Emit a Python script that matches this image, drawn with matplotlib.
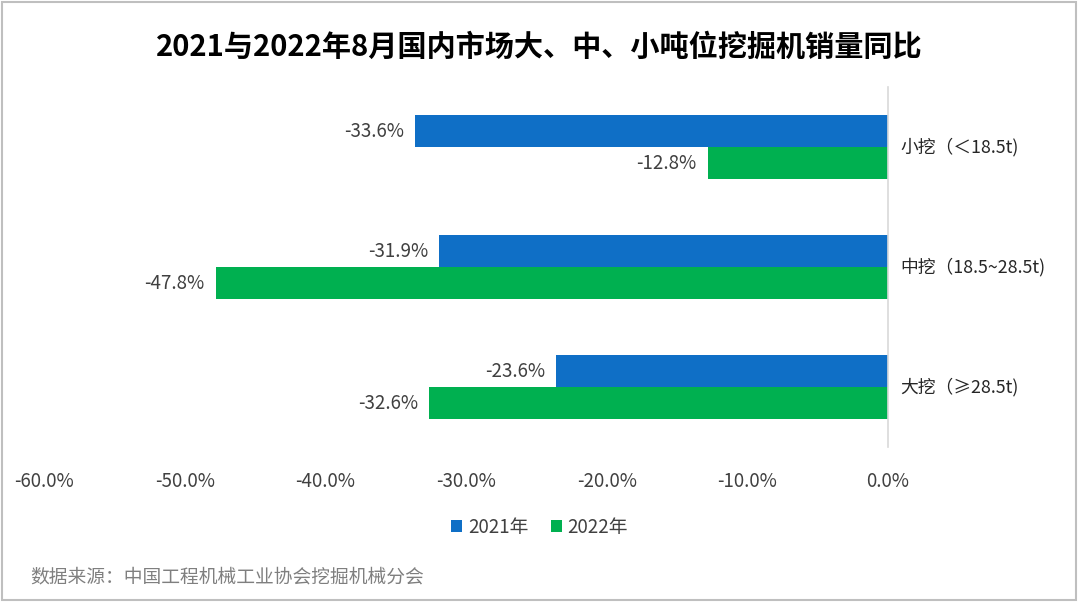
import numpy as np
import matplotlib.pyplot as plt
from matplotlib.patches import Rectangle

plt.rcParams['font.family'] = ['Noto Sans CJK SC', 'DejaVu Sans']

# ---- données ----
categories = ['小挖（＜18.5t)', '中挖（18.5~28.5t)', '大挖（≥28.5t)']
yoy_2021 = [-33.6, -31.9, -23.6]
yoy_2022 = [-12.8, -47.8, -32.6]
series_names = ['2021年', '2022年']
xticks = [-60, -50, -40, -30, -20, -10, 0]

c2021 = '#0F6FC6'
c2022 = '#00B050'

fig = plt.figure(figsize=(10.79, 6.02), dpi=100)
ax = fig.add_axes([0.0408, 0.2575, 0.7822, 0.5975])

y = np.arange(len(categories))
h = 0.267
b1 = ax.barh(y - h / 2, yoy_2021, height=h, color=c2021, label=series_names[0])
b2 = ax.barh(y + h / 2, yoy_2022, height=h, color=c2022, label=series_names[1])

for bars, vals in ((b1, yoy_2021), (b2, yoy_2022)):
    for bar, v in zip(bars, vals):
        ax.annotate(f'{v:.1f}%', xy=(v, bar.get_y() + bar.get_height() / 2),
                    xytext=(-8, 0), textcoords='offset points',
                    ha='right', va='center', fontsize=13.5, color='#404040')

for yi, cat in zip(y, categories):
    ax.annotate(cat, xy=(0, yi), xytext=(9, 0), textcoords='offset points',
                ha='left', va='center', fontsize=12.8, color='#262626')

ax.set_xlim(-60, 0)
ax.set_ylim(len(categories) - 0.5, -0.5)
ax.set_xticks(xticks)
ax.set_xticklabels([f'{t:.1f}%' for t in xticks], fontsize=13.5, color='#404040')
ax.tick_params(axis='x', length=0, pad=17)
ax.set_yticks([])
for s in ['top', 'bottom', 'left']:
    ax.spines[s].set_visible(False)
ax.spines['right'].set_color('#D9D9D9')
ax.spines['right'].set_linewidth(1.2)

fig.suptitle('2021与2022年8月国内市场大、中、小吨位挖掘机销量同比',
             y=0.948, fontsize=21, fontweight='bold', color='black')

fig.legend(handles=[b1, b2], labels=series_names, loc='center',
           bbox_to_anchor=(0.5, 0.124), ncol=2, frameon=False, fontsize=13.5,
           handlelength=0.6, handleheight=0.6, handletextpad=0.3, columnspacing=1.2,
           labelcolor='#404040')

fig.text(0.028, 0.042, '数据来源：中国工程机械工业协会挖掘机械分会',
         fontsize=13.5, color='#7F7F7F', ha='left', va='center')

fig.add_artist(Rectangle((0.002, 0.003), 0.995, 0.993, transform=fig.transFigure,
                         fill=False, edgecolor='#BFBFBF', linewidth=1.5))

fig.savefig('out.png', dpi=100)
